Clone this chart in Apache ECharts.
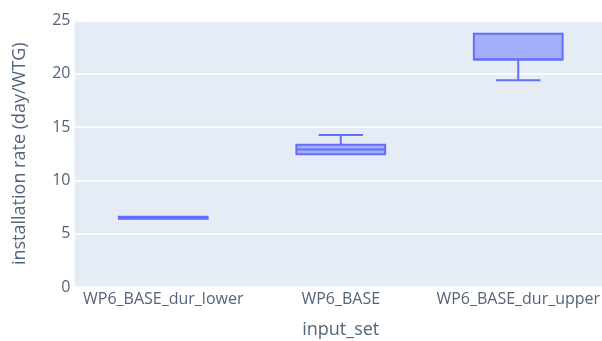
<!DOCTYPE html>
<html>
<head>
<meta charset="utf-8">
<script src="https://cdn.jsdelivr.net/npm/echarts@6/dist/echarts.min.js"></script>
<style>
  html, body { margin: 0; padding: 0; background: #ffffff; }
  #chart { width: 602px; height: 341px; }
</style>
</head>
<body>
<div id="chart"></div>
<script>
// Installation rate per input set, summarised as box statistics
const categories = ['WP6_BASE_dur_lower', 'WP6_BASE', 'WP6_BASE_dur_upper'];
const minValues    = [6.4, 12.45, 19.4];
const q1Values     = [6.4, 12.45, 21.35];
const medianValues = [6.5, 12.9, 21.35];
const q3Values     = [6.6, 13.35, 23.75];
const maxValues    = [6.6, 14.25, 23.75];
const yTicks = [0, 5, 10, 15, 20, 25];

const boxColor = '#636efa';
const boxFill = 'rgba(99,110,250,0.5)';
const textColor = '#53647a';
const fontFamily = '"Open Sans", Verdana, Arial, sans-serif';

const boxData = categories.map((c, i) =>
  [i, minValues[i], q1Values[i], medianValues[i], q3Values[i], maxValues[i]]);

function renderBox(params, api) {
  const idx = api.value(0);
  const band = api.size([1, 0])[0];
  const boxW = band * 0.5;
  const capW = band * 0.25;
  const pMin = api.coord([idx, api.value(1)]);
  const pQ1 = api.coord([idx, api.value(2)]);
  const pMed = api.coord([idx, api.value(3)]);
  const pQ3 = api.coord([idx, api.value(4)]);
  const pMax = api.coord([idx, api.value(5)]);
  const cx = pQ1[0];
  const lineStyle = { stroke: boxColor, lineWidth: 2, fill: null };
  const children = [
    {
      type: 'rect',
      shape: { x: cx - boxW / 2, y: pQ3[1], width: boxW, height: pQ1[1] - pQ3[1] },
      style: { fill: boxFill, stroke: boxColor, lineWidth: 2 }
    },
    {
      type: 'line',
      shape: { x1: cx - boxW / 2, y1: pMed[1], x2: cx + boxW / 2, y2: pMed[1] },
      style: lineStyle
    }
  ];
  if (pMax[1] < pQ3[1] - 0.5) {
    children.push(
      { type: 'line', shape: { x1: cx, y1: pQ3[1], x2: cx, y2: pMax[1] }, style: lineStyle },
      { type: 'line', shape: { x1: cx - capW / 2, y1: pMax[1], x2: cx + capW / 2, y2: pMax[1] }, style: lineStyle }
    );
  }
  if (pMin[1] > pQ1[1] + 0.5) {
    children.push(
      { type: 'line', shape: { x1: cx, y1: pQ1[1], x2: cx, y2: pMin[1] }, style: lineStyle },
      { type: 'line', shape: { x1: cx - capW / 2, y1: pMin[1], x2: cx + capW / 2, y2: pMin[1] }, style: lineStyle }
    );
  }
  return { type: 'group', children };
}

const chart = echarts.init(document.getElementById('chart'), null, { renderer: 'canvas' });
chart.setOption({
  animation: false,
  textStyle: { fontFamily },
  grid: {
    left: 74.5, top: 20.5, width: 532.5, bottom: 54,
    outerBoundsMode: 'none',
    containLabel: false,
    show: true, backgroundColor: '#e5ecf6', borderWidth: 0
  },
  xAxis: {
    type: 'category',
    data: categories,
    name: 'input_set',
    nameLocation: 'middle',
    nameGap: 34,
    nameTextStyle: { color: textColor, fontSize: 18, fontFamily },
    axisLine: { show: false },
    axisTick: { show: false },
    axisLabel: { color: textColor, fontSize: 16, margin: 4, interval: 0, fontFamily },
    splitLine: { show: false }
  },
  yAxis: {
    type: 'value',
    min: yTicks[0],
    max: yTicks[yTicks.length - 1],
    interval: yTicks[1] - yTicks[0],
    name: 'installation rate (day/WTG)',
    nameLocation: 'middle',
    nameGap: 46,
    nameTextStyle: { color: textColor, fontSize: 18, fontFamily },
    axisLine: { show: false },
    axisTick: { show: false },
    axisLabel: { color: textColor, fontSize: 16, margin: 4, fontFamily },
    splitLine: { show: true, lineStyle: { color: '#ffffff', width: 1.5 } }
  },
  series: [{
    type: 'custom',
    renderItem: renderBox,
    encode: { x: 0, y: [1, 2, 3, 4, 5] },
    data: boxData,
    clip: false
  }]
});
</script>
</body>
</html>
